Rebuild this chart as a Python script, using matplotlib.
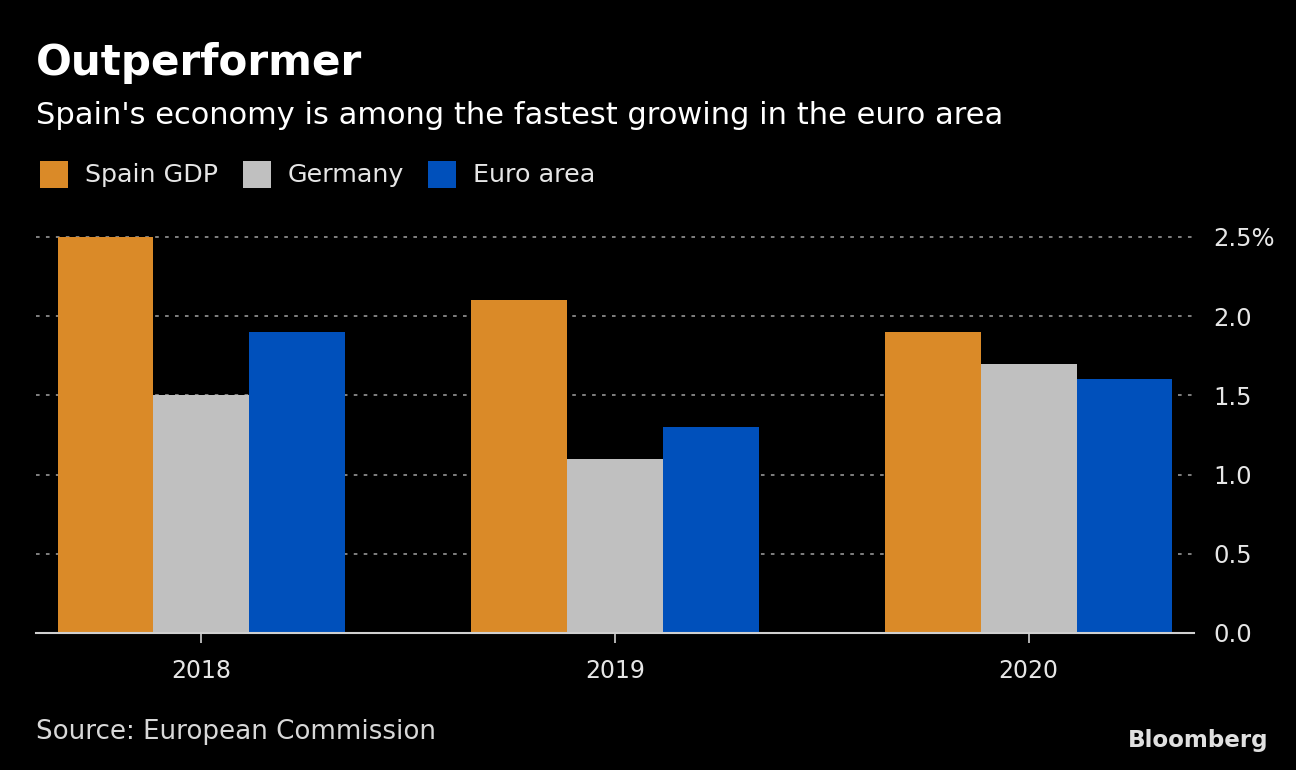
import matplotlib
matplotlib.use("Agg")
import matplotlib.pyplot as plt
from matplotlib.patches import Rectangle
import numpy as np

years = ["2018", "2019", "2020"]
series_names = ["Spain GDP", "Germany", "Euro area"]
spain = [2.5, 2.1, 1.9]
germany = [1.5, 1.1, 1.7]
euro_area = [1.9, 1.3, 1.6]
y_ticks = [0.0, 0.5, 1.0, 1.5, 2.0, 2.5]
y_labels = ["0.0", "0.5", "1.0", "1.5", "2.0", "2.5%"]

colors = ["#DA8A28", "#C0C0C0", "#0050BB"]
bg = "black"
txt = "#E6E6E6"

plt.rcParams['font.family'] = ['DejaVu Sans']

fig = plt.figure(figsize=(12.96, 7.7), dpi=100, facecolor=bg)
ax = fig.add_axes([36 / 1296, 137 / 770, (1194 - 36) / 1296, (633 - 221) / 770])
ax.set_facecolor(bg)

x = np.arange(len(years))
w = 0.232
for i, vals in enumerate([spain, germany, euro_area]):
    ax.bar(x + (i - 1) * w, vals, width=w, color=colors[i], zorder=3)

ax.set_xlim(-0.40, 2.40)
ax.set_ylim(0, 2.6)
ax.set_yticks(y_ticks)
ax.set_yticklabels(y_labels)
ax.yaxis.tick_right()
ax.tick_params(axis='y', length=0, pad=14, labelsize=17.5, labelcolor=txt)
ax.set_xticks(x)
ax.set_xticklabels(years)
ax.tick_params(axis='x', length=7, width=1.2, color="#D0D0D0", pad=12,
               labelsize=17, labelcolor=txt)
for t in ax.get_yticklabels():
    t.set_horizontalalignment('left')

ax.grid(axis='y', linestyle=(0, (2, 3.5)), color="#8A8A8A", linewidth=1.3, zorder=0)
for s in ["top", "right", "left"]:
    ax.spines[s].set_visible(False)
ax.spines["bottom"].set_color("#D0D0D0")
ax.spines["bottom"].set_linewidth(1.5)
ax.spines["bottom"].set_zorder(4)

fig.text(36 / 1296, 1 - 63 / 770, "Outperformer", fontsize=30.3, fontweight='bold',
         color="white", va='center', ha='left')
fig.text(36 / 1296, 1 - 115 / 770, "Spain's economy is among the fastest growing in the euro area",
         fontsize=22, color="white", va='center', ha='left')

# legend
sq_x = [40, 243, 428]
for name, c, sx in zip(series_names, colors, sq_x):
    fig.patches.append(Rectangle((sx / 1296, 1 - 188 / 770), 28 / 1296, 27 / 770,
                                 transform=fig.transFigure, facecolor=c, edgecolor='none'))
    fig.text((sx + 45) / 1296, 1 - 175 / 770, name, fontsize=18.3, color=txt,
             va='center', ha='left')

fig.text(36 / 1296, 1 - 732 / 770, "Source: European Commission", fontsize=18.8,
         color="#D8D8D8", va='center', ha='left')
fig.text(1268 / 1296, 1 - 740 / 770, "Bloomberg", fontsize=16.6, fontweight='bold',
         color="#E0E0E0", va='center', ha='right')

fig.savefig("out.png", dpi=100, facecolor=bg)
